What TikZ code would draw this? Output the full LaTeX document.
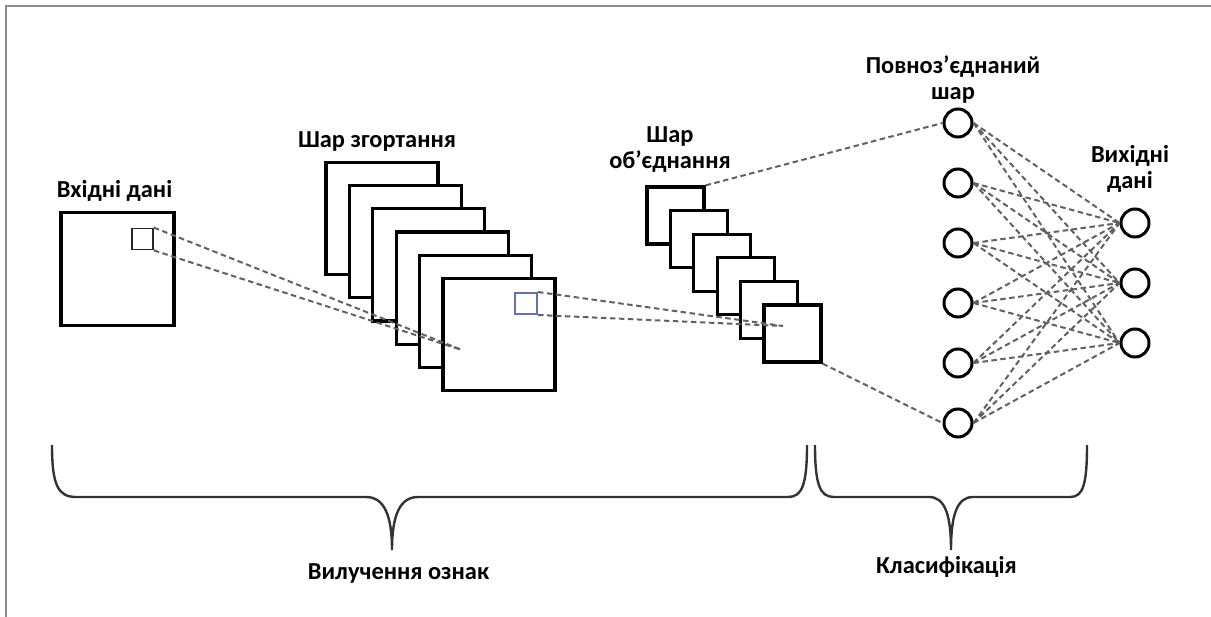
\documentclass[tikz,border=0pt]{standalone}
\usepackage{fontspec}
\setmainfont{Carlito}
\begin{document}
\begin{tikzpicture}[x=1bp,y=-1bp,
  fmap/.style={draw=black, line width=3.2bp, fill=white, inner sep=0pt, minimum width=#1, minimum height=#1},
  smallsq/.style={draw=black!85, line width=1.8bp, inner sep=0pt, minimum width=21bp, minimum height=21bp},
  bluesq/.style={draw={rgb,255:red,90;green,120;blue,175}, line width=2bp, inner sep=0pt, minimum width=22bp, minimum height=21bp},
  neuron/.style={circle, draw=black, line width=3bp, fill=white, inner sep=0pt, minimum size=28bp},
  conn/.style={draw=black!62, line width=2bp, dash pattern=on 5.5bp off 3.5bp},
  bracepath/.style={draw=black!80, line width=2.4bp},
  lbl/.style={font=\fontsize{24.5}{27}\selectfont\bfseries, inner sep=0pt, align=center},
  frameline/.style={draw=black!45, line width=2bp}
]
\useasboundingbox (0,0) rectangle (1211,617);
\draw[frameline] (6,617) -- (6,6) -- (1211,6);

% input
\node[fmap=113bp] (inp) at (117.5,269) {};
\node[smallsq] (insq) at (142.5,239) {};

% conv stack
\foreach \i in {1,...,6} {
  \node[fmap=112bp] (k\i) at ({382+23.4*(\i-1)},{218.5+23.2*(\i-1)}) {};
}
\node[bluesq] (bsq) at (526,303.5) {};

% pooling stack
\foreach \i in {1,...,6} {
  \node[fmap=57bp] (p\i) at ({675.5+23.4*(\i-1)},{215.5+23.6*(\i-1)}) {};
}

% neurons
\foreach \i in {1,...,6} {
  \node[neuron] (f\i) at (958,{123+60*(\i-1)}) {};
}
\foreach \j in {1,2,3} {
  \node[neuron] (o\j) at (1135,{223+60*(\j-1)}) {};
}

% connectors
\coordinate (c1) at (462,350);
\coordinate (c2) at (783,326);
\draw[conn] (insq.north east) -- (c1);
\draw[conn] (insq.south east) -- (c1);
\draw[conn] (bsq.north east) -- (c2);
\draw[conn] (bsq.south east) -- (c2);
\draw[conn] (p1.north east) -- (f1.west);
\draw[conn] (p6.south east) -- (f6.west);
\foreach \i in {1,...,6} {
  \foreach \j in {1,2,3} {
    \draw[conn] (f\i.east) -- (o\j.west);
  }
}

% braces
\draw[bracepath] (52,445) .. controls (52,485) and (58,497) .. (76,497) -- (366,497)
  .. controls (384,497) and (392,515) .. (392,550)
  .. controls (392,515) and (400,497) .. (418,497) -- (788,497)
  .. controls (802,497) and (807,485) .. (807,445);
\draw[bracepath] (815,445) .. controls (815,485) and (820,497) .. (834,497) -- (929,497)
  .. controls (945,497) and (951,515) .. (951,550)
  .. controls (951,515) and (957,497) .. (973,497) -- (1070,497)
  .. controls (1083,497) and (1087,485) .. (1087,445);

% labels
\node[lbl, anchor=base] (t1) at (114.5,198) {Вхідні дані};
\node[lbl, anchor=base] (t2) at (377,148) {Шар згортання};
\node[lbl, anchor=base] (t3) at (670,169) {Шар\\об’єднання};
\node[lbl, anchor=base] (t4) at (953,100) {Повноз’єднаний\\шар};
\node[lbl, anchor=base] (t5) at (1130,189) {Вихідні\\дані};
\node[lbl, anchor=base] (t6) at (398.5,579) {Вилучення ознак};
\node[lbl, anchor=base] (t7) at (946.5,573) {Класифікація};
\end{tikzpicture}
\end{document}
